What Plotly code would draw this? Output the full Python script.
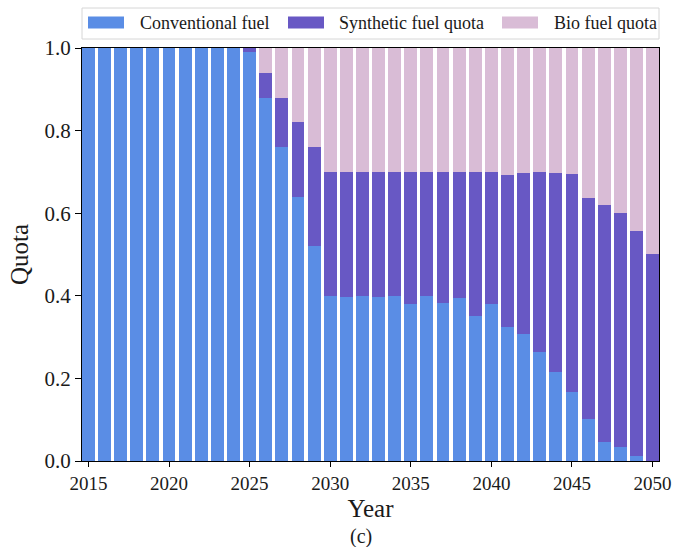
import plotly.graph_objects as go

# Fuel quota shares per year (stacked to 1.0)
years = list(range(2015, 2051))

conventional = [1.0] * 10 + [
    0.99, 0.88, 0.76, 0.64, 0.52,
    0.40, 0.398, 0.40, 0.398, 0.40, 0.38, 0.40, 0.383, 0.395, 0.35, 0.381,
    0.324, 0.307, 0.265, 0.216, 0.168, 0.101, 0.047, 0.035, 0.011, 0.0,
]
synthetic = [0.0] * 10 + [
    0.01, 0.06, 0.12, 0.18, 0.24,
    0.30, 0.302, 0.30, 0.302, 0.30, 0.32, 0.30, 0.317, 0.305, 0.35, 0.319,
    0.369, 0.391, 0.435, 0.482, 0.528, 0.535, 0.573, 0.565, 0.545, 0.502,
]
bio = [0.0] * 10 + [
    0.0, 0.06, 0.12, 0.18, 0.24,
    0.30, 0.30, 0.30, 0.30, 0.30, 0.30, 0.30, 0.30, 0.30, 0.30, 0.30,
    0.307, 0.302, 0.30, 0.302, 0.304, 0.364, 0.38, 0.40, 0.444, 0.498,
]

series_names = ["Conventional fuel", "Synthetic fuel quota", "Bio fuel quota"]
series_values = [conventional, synthetic, bio]
series_colors = ["#5A8DE5", "#6858C4", "#D9BCD6"]

x_ticks = [2015, 2020, 2025, 2030, 2035, 2040, 2045, 2050]
y_ticks = [0.0, 0.2, 0.4, 0.6, 0.8, 1.0]

FONT = "Liberation Serif, Times New Roman, serif"
W, H = 673, 547
L, R, T, B = 82, 14, 48, 86
PW, PH = W - L - R, H - T - B


def px_x(p):
    return (p - L) / PW


def px_y(p):
    return (H - B - p) / PH


fig = go.Figure()
for name, vals, col in zip(series_names, series_values, series_colors):
    fig.add_trace(go.Bar(
        x=years, y=vals, name=name, width=0.8,
        marker=dict(color=col, line=dict(width=0)),
        showlegend=False,
    ))

# Legend drawn as a framed row of swatches and labels above the plot
shapes = [dict(
    type="rect", xref="paper", yref="paper",
    x0=px_x(82), x1=px_x(659), y0=px_y(39), y1=px_y(8),
    line=dict(color="#D6D6D6", width=1), fillcolor="white", layer="above",
)]
annotations = []
swatch_left = [88, 288, 502]
text_left = [138, 337, 552]
for sx, tx, name, col in zip(swatch_left, text_left, series_names, series_colors):
    shapes.append(dict(
        type="rect", xref="paper", yref="paper",
        x0=px_x(sx), x1=px_x(sx + 36), y0=px_y(28.5), y1=px_y(16.5),
        line=dict(width=0), fillcolor=col, layer="above",
    ))
    annotations.append(dict(
        xref="paper", yref="paper", x=px_x(tx), y=px_y(23),
        xanchor="left", yanchor="middle", showarrow=False,
        text=name, font=dict(family=FONT, size=18, color="#1a1a1a"),
    ))

annotations.append(dict(
    xref="paper", yref="paper", x=px_x(361), y=px_y(536),
    xanchor="center", yanchor="middle", showarrow=False,
    text="(c)", font=dict(family=FONT, size=20, color="#1a1a1a"),
))

fig.update_layout(
    width=W, height=H,
    margin=dict(l=L, r=R, t=T, b=B, pad=0, autoexpand=False),
    barmode="stack",
    plot_bgcolor="white", paper_bgcolor="white",
    font=dict(family=FONT, color="#1a1a1a"),
    shapes=shapes, annotations=annotations,
    xaxis=dict(
        range=[2014.6, 2050.4], tickmode="array", tickvals=x_ticks,
        ticks="outside", ticklen=5, tickcolor="black", tickwidth=1,
        showline=True, linecolor="black", linewidth=1.2, mirror=True,
        showgrid=False, zeroline=False, automargin=False,
        tickfont=dict(family=FONT, size=19),
        title=dict(text="Year", font=dict(family=FONT, size=25), standoff=6),
    ),
    yaxis=dict(
        range=[0, 1], tickmode="array", tickvals=y_ticks, tickformat=".1f",
        ticks="outside", ticklen=6, tickcolor="black", tickwidth=1,
        showline=True, linecolor="black", linewidth=1.2, mirror=True,
        showgrid=False, zeroline=False, automargin=False,
        tickfont=dict(family=FONT, size=21),
        title=dict(text="Quota", font=dict(family=FONT, size=25), standoff=8),
    ),
)

fig.write_html("out.html")
